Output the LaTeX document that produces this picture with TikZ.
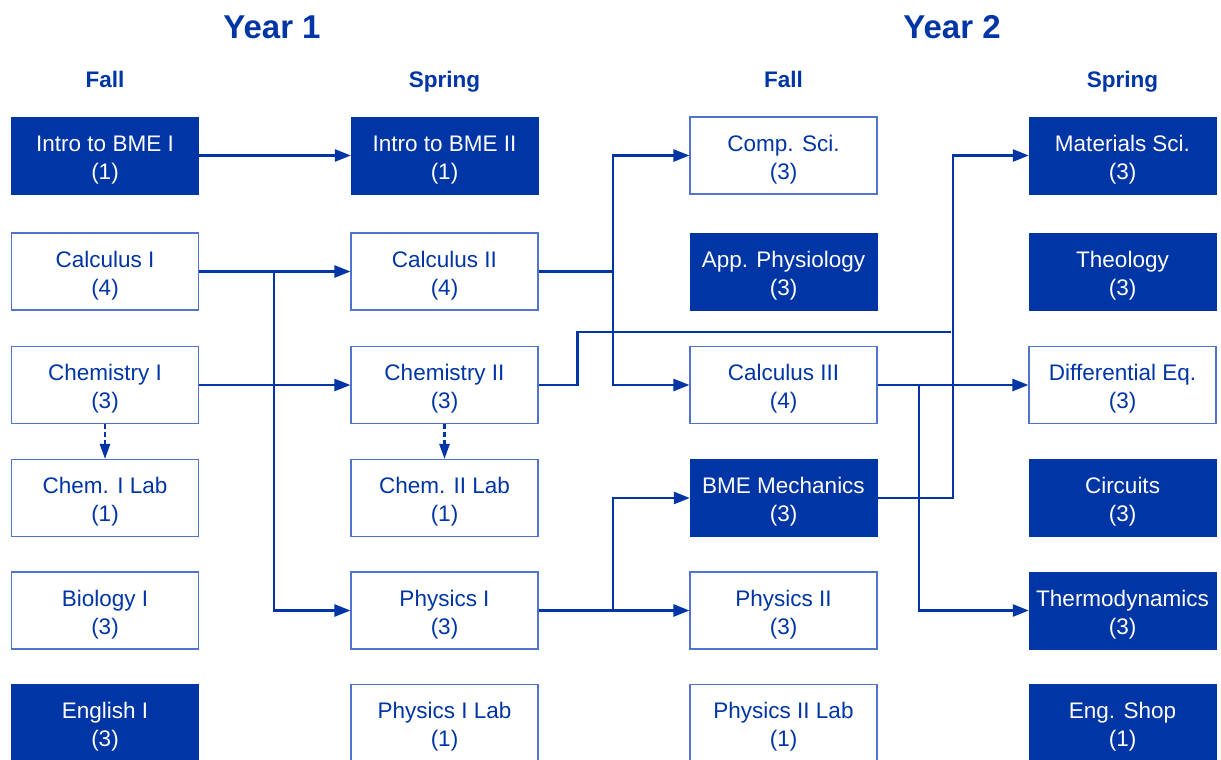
\documentclass[tikz,border=0pt]{standalone}
\usepackage{fontspec}
\setmainfont{Liberation Sans}
\usetikzlibrary{arrows.meta}
\definecolor{dblue}{RGB}{0,53,165}
\definecolor{lblue}{RGB}{80,115,205}
\tikzset{
  box/.style={minimum width=187pt, minimum height=77pt, inner sep=0pt, align=center,
    text height=50pt, text depth=3pt,
    font=\fontsize{22.5}{28}\selectfont},
  fillbox/.style={box, fill=dblue, draw=dblue, text=white},
  openbox/.style={box, fill=white, draw=lblue, line width=1.1pt, text=dblue},
  conn/.style={draw=dblue, line width=2.5pt, -{Triangle[length=16pt,width=12pt]}},
  plainconn/.style={draw=dblue, line width=2.5pt},
  dashconn/.style={draw=dblue, line width=2.5pt, dash pattern=on 5pt off 3pt, -{Triangle[length=15pt,width=10pt]}},
  yeartitle/.style={text=dblue, anchor=base, font=\fontsize{33}{36}\selectfont\bfseries},
  season/.style={text=dblue, anchor=base, font=\fontsize{22.5}{26}\selectfont\bfseries}
}
\begin{document}
\begin{tikzpicture}[x=1pt,y=-1pt]
\useasboundingbox (0,0) rectangle (1221,760);
% titles
\node[yeartitle] (y1) at (272,39) {Year 1};
\node[yeartitle] (y2) at (952,39) {Year 2};
\node[season] (s1) at (105,88) {Fall};
\node[season] (s2) at (444.5,88) {Spring};
\node[season] (s3) at (783.5,88) {Fall};
\node[season] (s4) at (1122.5,88) {Spring};
% column 1
\node[fillbox] (ib1) at (105,155.5) {Intro to BME I\\(1)};
\node[openbox] (calc1) at (105,271.5) {Calculus I\\(4)};
\node[openbox] (chem1) at (105,385) {Chemistry I\\(3)};
\node[openbox] (chem1lab) at (105,498) {Chem. I Lab\\(1)};
\node[openbox] (bio1) at (105,610.5) {Biology I\\(3)};
\node[fillbox] (eng1) at (105,723) {English I\\(3)};
% column 2
\node[fillbox] (ib2) at (444.5,155.5) {Intro to BME II\\(1)};
\node[openbox] (calc2) at (444.5,271.5) {Calculus II\\(4)};
\node[openbox] (chem2) at (444.5,385) {Chemistry II\\(3)};
\node[openbox] (chem2lab) at (444.5,498) {Chem. II Lab\\(1)};
\node[openbox] (phys1) at (444.5,610.5) {Physics I\\(3)};
\node[openbox] (phys1lab) at (444.5,723) {Physics I Lab\\(1)};
% column 3
\node[openbox] (comp) at (783.5,155.5) {Comp. Sci.\\(3)};
\node[fillbox] (app) at (783.5,271.5) {App. Physiology\\(3)};
\node[openbox] (calc3) at (783.5,385) {Calculus III\\(4)};
\node[fillbox] (mech) at (783.5,498) {BME Mechanics\\(3)};
\node[openbox] (phys2) at (783.5,610.5) {Physics II\\(3)};
\node[openbox] (phys2lab) at (783.5,723) {Physics II Lab\\(1)};
% column 4
\node[fillbox] (mat) at (1122.5,155.5) {Materials Sci.\\(3)};
\node[fillbox] (theo) at (1122.5,271.5) {Theology\\(3)};
\node[openbox] (diffeq) at (1122.5,385) {Differential Eq.\\(3)};
\node[fillbox] (circ) at (1122.5,498) {Circuits\\(3)};
\node[fillbox] (thermo) at (1122.5,610.5) {Thermodynamics\\(3)};
\node[fillbox] (shop) at (1122.5,723) {Eng. Shop\\(1)};
% junctions
\coordinate (j1) at (274,271.5);
\coordinate (j2) at (613,271.5);
\coordinate (j3) at (577.5,385);
\coordinate (j4) at (951,332);
\coordinate (j5) at (953,498);
\coordinate (j6) at (919,385);
\coordinate (j7) at (613,610.5);
% connectors
\draw[conn] (ib1.east) -- (ib2.west);
\draw[conn] (calc1.east) -- (calc2.west);
\draw[conn] (j1) |- (phys1.west);
\draw[conn] (chem1.east) -- (chem2.west);
\draw[dashconn] (chem1.south) -- (chem1lab.north);
\draw[dashconn] (chem2.south) -- (chem2lab.north);
\draw[plainconn] (calc2.east) -- (j2);
\draw[conn] (j2) |- (comp.west);
\draw[conn] (j2) |- (calc3.west);
\draw[plainconn] (chem2.east) -- (j3) |- (j4);
\draw[conn] (mech.east) -- (j5) |- (mat.west);
\draw[conn] (calc3.east) -- (diffeq.west);
\draw[conn] (j6) |- (thermo.west);
\draw[conn] (phys1.east) -- (phys2.west);
\draw[conn] (j7) |- (mech.west);
\end{tikzpicture}
\end{document}
